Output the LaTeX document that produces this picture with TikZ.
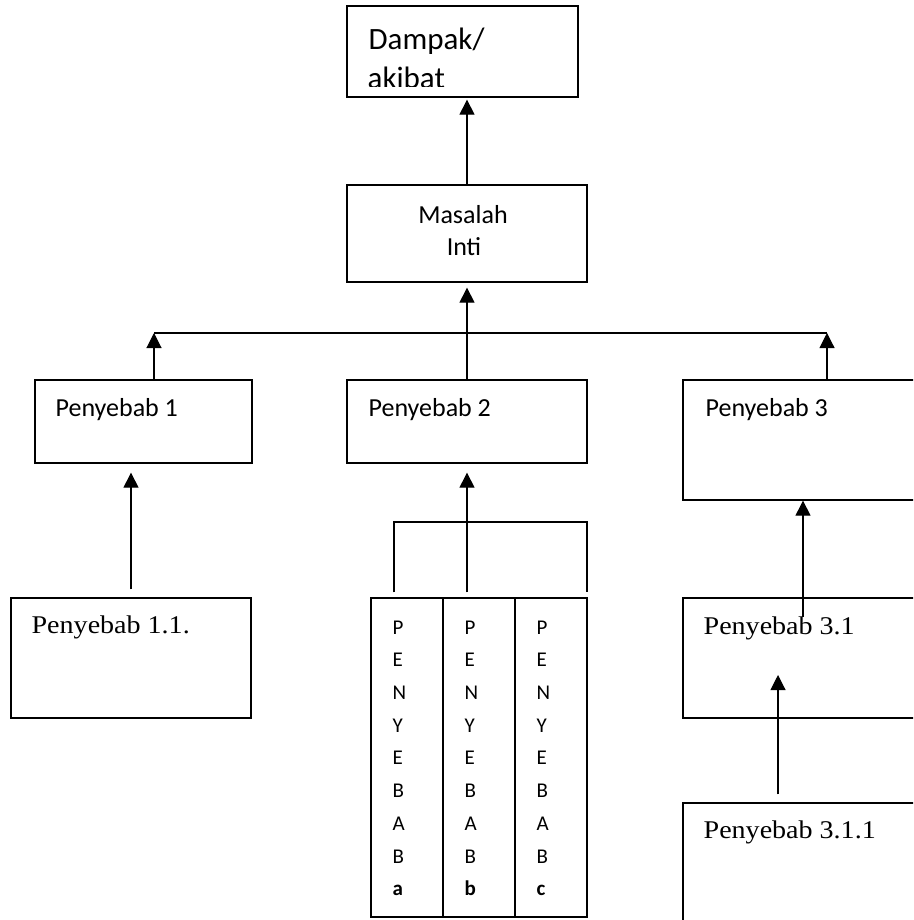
\documentclass[tikz,border=0pt]{standalone}
\usepackage{fontspec}
\newfontfamily\calibri{Carlito}
\newfontfamily\antiqua[FakeStretch=1.1]{Liberation Serif}
\usepackage{tikz}
\usetikzlibrary{arrows.meta,positioning}

\begin{document}
\begin{tikzpicture}[x=1pt, y=-1pt, line width=1.3pt,
  box/.style={rectangle, draw, inner sep=0pt},
  clbl/.style={font=\calibri\fontsize{26}{30}\selectfont, inner sep=0pt, anchor=base west},
  slbl/.style={font=\antiqua\fontsize{25.5}{30}\selectfont, inner sep=0pt, anchor=base west},
  colt/.style={font=\calibri\fontsize{21}{32.7}\selectfont, align=left, inner sep=0pt, anchor=north west},
  arr/.style={-{Triangle[width=15pt,length=15pt]}, line width=1.1pt},
]
\useasboundingbox (0,0) rectangle (913,920);
\clip (0,0) rectangle (913,920);

% boxes
\node[box, minimum width=231pt, minimum height=91pt] (dampak) at (462.5,51.5) {};
\node[box, minimum width=240pt, minimum height=97pt] (masalah) at (467,233.5) {};
\node[box, minimum width=217pt, minimum height=83pt] (p1) at (143.5,421.5) {};
\node[box, minimum width=240pt, minimum height=83pt] (p2) at (467,421.5) {};
\node[box, minimum width=260pt, minimum height=120pt] (p3) at (813,440) {};
\node[box, minimum width=240pt, minimum height=120pt] (p11) at (131,658) {};
\node[box, minimum width=72pt, minimum height=319pt] (pa) at (407,757.5) {};
\node[box, minimum width=72pt, minimum height=319pt] (pb) at (479,757.5) {};
\node[box, minimum width=72pt, minimum height=319pt] (pc) at (551,757.5) {};
\node[box, minimum width=257pt, minimum height=120pt] (p31) at (811.5,658) {};
\node[box, minimum width=257pt, minimum height=157pt] (p311) at (811.5,881.5) {};

% labels
\begin{scope}
\clip (347,6) rectangle (578,86.5);
\node[clbl, font=\calibri\fontsize{31}{38}\selectfont] (dtxt1) at (368,50) {Dampak/};
\node[clbl, font=\calibri\fontsize{31}{38}\selectfont] (dtxt2) at (367,88.5) {akibat};
\end{scope}
\node[clbl, anchor=base] (mtxt1) at (463,223) {Masalah};
\node[clbl, anchor=base] (mtxt2) at (464,255) {Inti};
\node[clbl] (p1txt) at (55,416) {Penyebab 1};
\node[clbl] (p2txt) at (368,416) {Penyebab 2};
\node[clbl] (p3txt) at (705,416) {Penyebab 3};
\node[slbl] (p11txt) at (31,633) {Penyebab 1.1.};
\node[slbl] (p31txt) at (703,634) {Penyebab 3.1};
\node[slbl] (p311txt) at (703,838) {Penyebab 3.1.1};
\node[colt] (patxt) at (392,620) {P\\E\\N\\Y\\E\\B\\A\\B\\\textbf{a}};
\node[colt] (pbtxt) at (464,620) {P\\E\\N\\Y\\E\\B\\A\\B\\\textbf{b}};
\node[colt] (pctxt) at (536,620) {P\\E\\N\\Y\\E\\B\\A\\B\\\textbf{c}};

% connectors
\coordinate (barL) at (154,333);
\coordinate (barR) at (827,333);
\coordinate (brL) at (394,522);
\coordinate (brR) at (587,522);
\coordinate (p3in) at (803,617);
\coordinate (p31in) at (778,675);

\draw[arr, shorten >=2pt] (masalah.north) -- (masalah.north |- dampak.south);
\draw[arr, shorten >=5pt] (p2.north) -- (masalah.south);
\draw[line width=1.1pt] (barL) -- (barR);
\draw[arr] (barL |- p1.north) -- (barL);
\draw[arr] (barR |- p3.north) -- (barR);
\draw[arr, shorten >=9pt] ([yshift=8pt]p11.north) -- (p11.north |- p1.south);
\draw[line width=1.1pt] ([yshift=5pt]pa.north -| brL) -- (brL) -- (brR) -- ([yshift=5pt]pc.north -| brR);
\draw[arr, shorten >=9pt] ([yshift=5pt]pb.north -| p2.south) -- (p2.south);
\draw[arr] (p3in) -- (p3in |- p3.south);
\draw[arr] ([yshift=8pt]p311.north -| p31in) -- (p31in);
\end{tikzpicture}
\end{document}
